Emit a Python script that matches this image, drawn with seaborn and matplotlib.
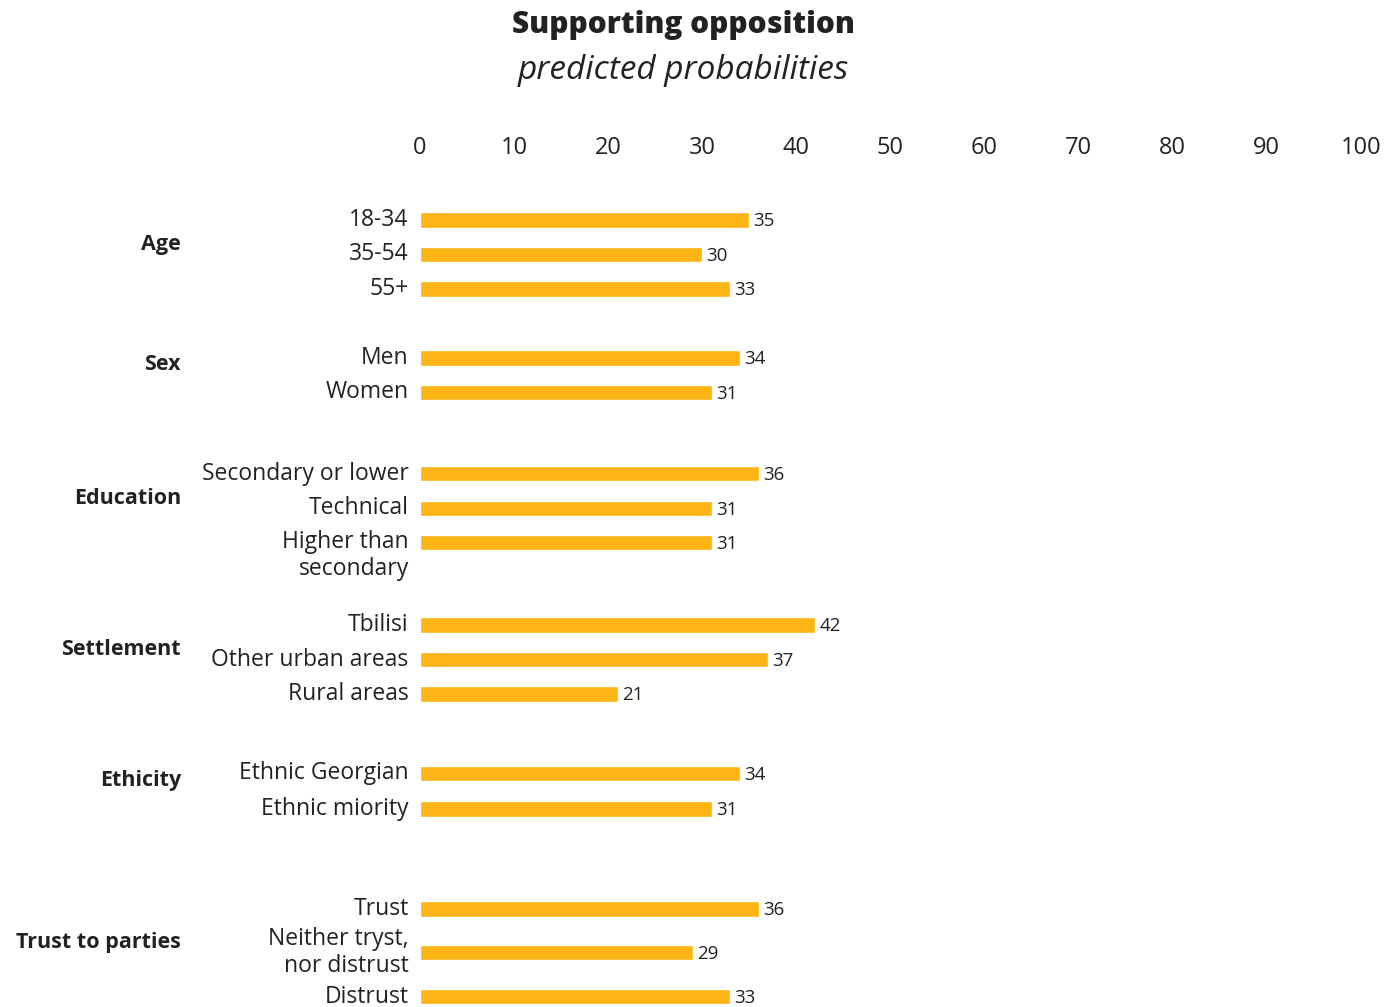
import matplotlib
matplotlib.use("Agg")
import matplotlib.pyplot as plt
import matplotlib.transforms as mtransforms
import numpy as np
import pandas as pd
import seaborn as sns

# ---- data -------------------------------------------------------------
groups = ["Age", "Sex", "Education", "Settlement", "Ethicity", "Trust to parties"]
categories = [
    ["18-34", "35-54", "55+"],
    ["Men", "Women"],
    ["Secondary or lower", "Technical", "Higher than\nsecondary"],
    ["Tbilisi", "Other urban areas", "Rural areas"],
    ["Ethnic Georgian", "Ethnic miority"],
    ["Trust", "Neither tryst,\nnor distrust", "Distrust"],
]
values = [
    [35, 30, 33],
    [34, 31],
    [36, 31, 31],
    [42, 37, 21],
    [34, 31],
    [36, 29, 33],
]
x_ticks = [0, 10, 20, 30, 40, 50, 60, 70, 80, 90, 100]

title = "Supporting opposition"
subtitle = "predicted probabilities"

# ---- layout (row positions along the y axis) --------------------------
gap_before = [0.0, 2.0, 2.36, 2.38, 2.3, 2.9]
row_step = [1.0, 1.0, 1.0, 1.0, 1.03, 1.27]

rows = []
pos = 0.0
for gi, (g, cats, vals) in enumerate(zip(groups, categories, values)):
    if gi > 0:
        pos += gap_before[gi]
    for ci, (c, v) in enumerate(zip(cats, vals)):
        if ci > 0:
            pos += row_step[gi]
        rows.append({"group": g, "category": c, "value": v, "ypos": pos})
df = pd.DataFrame(rows)

# ---- style ------------------------------------------------------------
sns.set_theme(style="white")
plt.rcParams["font.family"] = ["Open Sans", "DejaVu Sans"]
bar_color = "#FDB515"
text_color = "#222222"

fig = plt.figure(figsize=(14.0, 10.07), dpi=100)
ax = fig.add_axes([0.300, 0.0, 0.672, 0.833])

sns.barplot(data=df, x="value", y="ypos", orient="h", native_scale=True,
            width=0.44, color=bar_color, saturation=1, ax=ax)

ax.set_xlim(0, 100)
ax.set_ylim(22.81, -1.5)
ax.set_xticks(x_ticks)
ax.xaxis.tick_top()
ax.tick_params(axis="x", length=0, pad=6, labelsize=17, labelcolor=text_color)
ax.set_yticks([])
ax.set_xlabel("")
ax.set_ylabel("")
for s in ax.spines.values():
    s.set_visible(False)

# value labels at bar ends
for _, r in df.iterrows():
    ax.annotate(f"{r['value']:g}", xy=(r["value"], r["ypos"]),
                xytext=(3, -1), textcoords="offset points",
                ha="left", va="center", fontsize=13.5, color=text_color)

# category labels to the left of the bars
lab_tf = mtransforms.blended_transform_factory(ax.transAxes, ax.transData)
for _, r in df.iterrows():
    dy = 0.0
    if r["category"].startswith("Higher"):
        dy = 0.36
    ax.text(-0.012, r["ypos"] + dy, r["category"], transform=lab_tf,
            ha="right", va="center", fontsize=16.5, color=text_color,
            linespacing=1.15)

# group labels
grp_x = (181 / 1400 - 0.300) / 0.672
for g in groups:
    ys = df.loc[df["group"] == g, "ypos"]
    ax.text(grp_x, ys.mean() - 0.3, g, transform=lab_tf, ha="right",
            va="center", fontsize=15.5, fontweight="bold", color=text_color)

# titles
fig.text(0.488, 0.975, title, ha="center", va="center", fontsize=21.5,
         fontweight="heavy", color=text_color)
fig.text(0.488, 0.930, subtitle, ha="center", va="center", fontsize=24,
         fontstyle="italic", color=text_color)

fig.savefig("out.png", dpi=100, facecolor="white")
